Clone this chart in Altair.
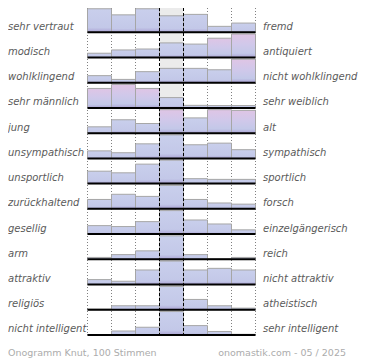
import altair as alt
import pandas as pd

# ---- data -------------------------------------------------------------
left_labels = ["sehr vertraut", "modisch", "wohlklingend", "sehr männlich", "\u00a0jung",
               "unsympathisch", "unsportlich", "zurückhaltend", "gesellig", "arm",
               "attraktiv", "religiös", "nicht intelligent"]
right_labels = ["fremd", "antiquiert", "nicht wohlklingend", "sehr weiblich", "alt",
                "sympathisch", "sportlich", "forsch", "einzelgängerisch", "reich",
                "nicht attraktiv", "atheistisch", "sehr intelligent"]
steps = [1, 2, 3, 4, 5, 6, 7]
# relative share of votes per step (row maximum = 100)
votes = [
    [100, 74, 100, 70, 76, 25, 39],
    [18, 32, 36, 62, 57, 82, 100],
    [30, 14, 47, 61, 61, 55, 100],
    [83, 100, 83, 44, 11, 10, 10],
    [27, 57, 41, 100, 65, 100, 97],
    [32, 24, 62, 100, 58, 65, 37],
    [53, 46, 83, 100, 21, 18, 18],
    [40, 62, 53, 100, 40, 25, 20],
    [36, 32, 53, 100, 60, 43, 18],
    [8, 20, 36, 100, 20, 2, 8],
    [21, 14, 62, 100, 62, 69, 62],
    [3, 17, 17, 100, 44, 17, 7],
    [2, 17, 33, 100, 40, 15, 3],
]
footer_left = "Onogramm Knut, 100 Stimmen"
footer_right = "onomastik.com - 05 / 2025"

# ---- style -------------------------------------------------------------
pink_cells = {(2, 6), (2, 7), (3, 7), (4, 1), (4, 2), (4, 3), (5, 4), (5, 6), (5, 7)}
side_edges = [0, 1, 2, 5, 6, 7]
mid_edges = [3, 4]
W, H = 168, 327
NROWS = len(votes)
YMAX = NROWS - 1 + 0.96
BAR = 0.93

blue_grad = {"gradient": "linear", "x1": 0, "y1": 0, "x2": 0, "y2": 1,
             "stops": [{"offset": 0, "color": "#c9cfec"},
                       {"offset": 0.8, "color": "#c3c8e8"},
                       {"offset": 1, "color": "#aba3d4"}]}
pink_grad = {"gradient": "linear", "x1": 0, "y1": 0, "x2": 0, "y2": 1,
             "stops": [{"offset": 0, "color": "#dfc5e5"},
                       {"offset": 0.45, "color": "#d0c8ea"},
                       {"offset": 0.82, "color": "#c3c8e8"},
                       {"offset": 1, "color": "#aba3d4"}]}

recs = []
for r, vals in enumerate(votes):
    for s, v in zip(steps, vals):
        recs.append({"row": r, "step": s, "votes": v,
                     "tone": "pink" if (r + 1, s) in pink_cells else "blue"})
df = pd.DataFrame(recs)
lab = pd.DataFrame({"row": list(range(NROWS)), "left": left_labels, "right": right_labels})
side_df = pd.DataFrame({"edge": side_edges})
mid_df = pd.DataFrame({"edge": mid_edges})
foot_df = pd.DataFrame({"l": [footer_left], "r": [footer_right]})

xs = alt.Scale(domain=[0, 7], nice=False, zero=False)
ys = alt.Scale(domain=[0, YMAX], nice=False, zero=False)

base = alt.Chart(df).transform_calculate(
    base=f"{NROWS - 1} - datum.row",
    top=f"{NROWS - 1} - datum.row + datum.votes / 100 * {BAR}",
    cell_top=f"min({NROWS - 1} - datum.row + 1, {YMAX})",
    x0="datum.step - 1",
    x1="datum.step",
)

grey = base.transform_filter(alt.datum.step == 4).mark_rect(color="#ebebeb").encode(
    x=alt.X("x0:Q", scale=xs, axis=None), x2="x1:Q",
    y=alt.Y("base:Q", scale=ys, axis=None), y2="cell_top:Q")

dotted = alt.Chart(side_df).mark_rule(color="#808080", strokeWidth=1, strokeDash=[1, 2]).encode(
    x=alt.X("edge:Q", scale=xs, axis=None), y=alt.value(0), y2=alt.value(H))

def bars(tone, grad):
    return base.transform_filter(
        (alt.datum.tone == tone) & (alt.datum.votes > 0)
    ).mark_rect(fill=grad, stroke="#a6a6a6", strokeWidth=1).encode(
        x=alt.X("x0:Q", scale=xs, axis=None), x2="x1:Q",
        y=alt.Y("base:Q", scale=ys, axis=None), y2="top:Q")

labbase = alt.Chart(lab).transform_calculate(
    base=f"{NROWS - 1} - datum.row",
    ty=f"{NROWS - 1} - datum.row + 0.1",
)

baselines = labbase.mark_rule(color="black", strokeWidth=2).encode(
    y=alt.Y("base:Q", scale=ys, axis=None), x=alt.value(0), x2=alt.value(W))

dashed = alt.Chart(mid_df).mark_rule(color="black", strokeWidth=1, strokeDash=[3, 2]).encode(
    x=alt.X("edge:Q", scale=xs, axis=None), y=alt.value(0), y2=alt.value(H))

txt = dict(font="DejaVu Sans", fontStyle="italic", fontSize=10, color="#5a5a5a",
           baseline="alphabetic")
left_t = labbase.mark_text(align="left", **txt).encode(
    x=alt.value(-79.5), y=alt.Y("ty:Q", scale=ys, axis=None), text="left:N")
right_t = labbase.mark_text(align="left", **txt).encode(
    x=alt.value(175.5), y=alt.Y("ty:Q", scale=ys, axis=None), text="right:N")

ftxt = dict(font="DejaVu Sans", fontSize=9.5, color="#acacac", baseline="alphabetic")
foot_l = alt.Chart(foot_df).mark_text(align="left", **ftxt).encode(
    x=alt.value(-79.5), y=alt.value(H + 21), text="l:N")
foot_r = alt.Chart(foot_df).mark_text(align="right", **ftxt).encode(
    x=alt.value(258.5), y=alt.value(H + 21), text="r:N")

chart = alt.layer(
    grey, dotted, bars("blue", blue_grad), bars("pink", pink_grad),
    baselines, dashed, left_t, right_t, foot_l, foot_r
).properties(
    width=W, height=H,
    autosize=alt.AutoSizeParams(type="none"),
    padding={"left": 79.5, "top": 0, "right": 106.5, "bottom": 25},
).configure_view(stroke=None)

chart.save("out.html", embed_options={"renderer": "svg", "actions": False})
